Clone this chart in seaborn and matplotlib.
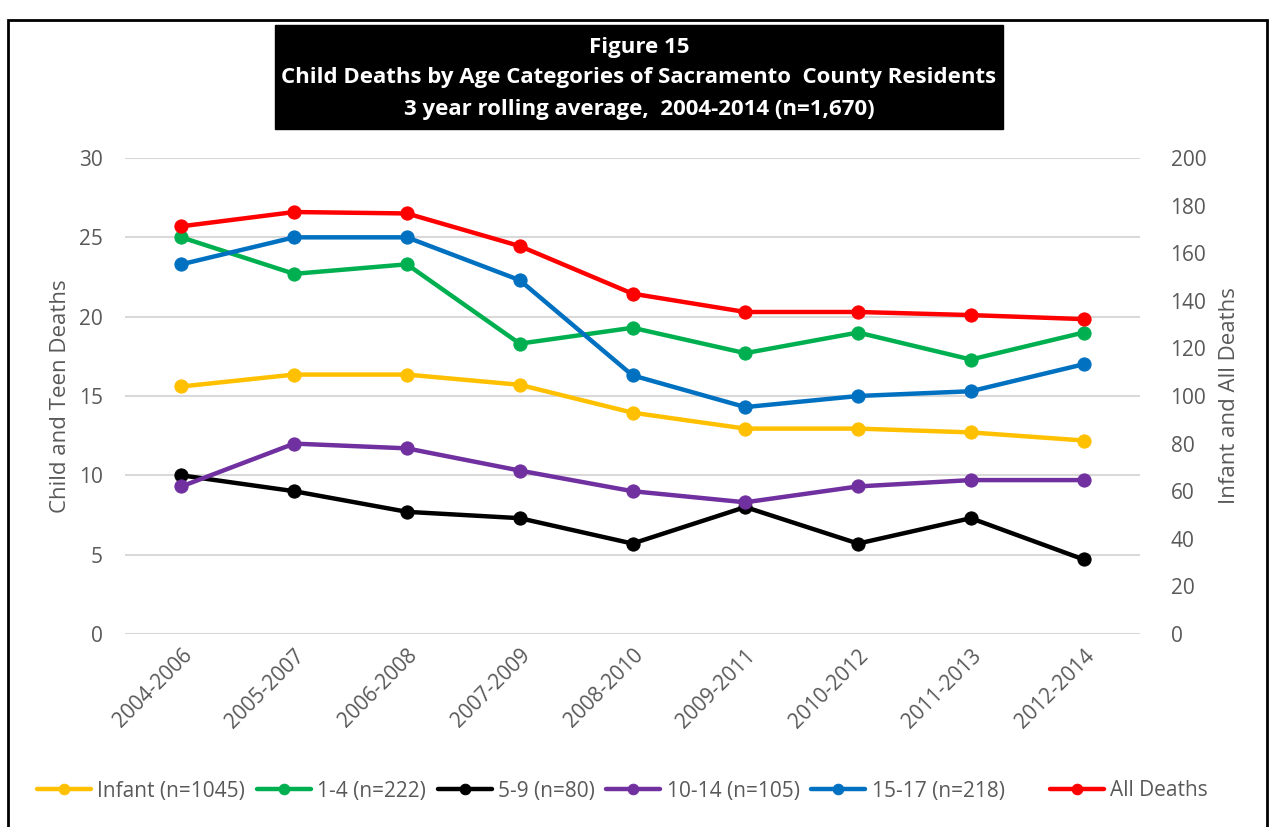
import matplotlib
matplotlib.use("Agg")
import matplotlib.pyplot as plt
import seaborn as sns
import pandas as pd
from matplotlib.patches import Rectangle

# ---------------- data ----------------
periods = ["2004-2006", "2005-2007", "2006-2008", "2007-2009", "2008-2010",
           "2009-2011", "2010-2012", "2011-2013", "2012-2014"]
infant = [104, 109, 109, 104.7, 93, 86.3, 86.3, 84.7, 81.3]          # right axis
age_1_4 = [25, 22.7, 23.3, 18.3, 19.3, 17.7, 19, 17.3, 19]           # left axis
age_5_9 = [10, 9, 7.7, 7.3, 5.7, 8, 5.7, 7.3, 4.7]                   # left axis
age_10_14 = [9.3, 12, 11.7, 10.3, 9, 8.3, 9.3, 9.7, 9.7]             # left axis
age_15_17 = [23.3, 25, 25, 22.3, 16.3, 14.3, 15, 15.3, 17]           # left axis
all_deaths = [171.3, 177.3, 176.7, 163, 143, 135.3, 135.3, 134, 132.3]  # right axis

left_ticks = [0, 5, 10, 15, 20, 25, 30]
right_ticks = [0, 20, 40, 60, 80, 100, 120, 140, 160, 180, 200]

labels = {
    "infant": "Infant (n=1045)",
    "a14": "1-4 (n=222)",
    "a59": "5-9 (n=80)",
    "a1014": "10-14 (n=105)",
    "a1517": "15-17 (n=218)",
    "all": "All Deaths",
}
title_lines = ["Figure 15",
               "Child Deaths by Age Categories of Sacramento  County Residents",
               "3 year rolling average,  2004-2014 (n=1,670)"]

# ---------------- style ----------------
sns.set_style("white")
plt.rcParams["font.family"] = ["Open Sans", "DejaVu Sans"]
GRAY = "#595959"

fig = plt.figure(figsize=(12.71, 8.27), dpi=100)
ax = fig.add_axes([125 / 1271, 1 - 634 / 827, (1140 - 125) / 1271, (634 - 158) / 827])
ax2 = ax.twinx()

lw = 3.2
ms = 9.5
left_series = [(age_1_4, "#00B050", labels["a14"]),
               (age_5_9, "#000000", labels["a59"]),
               (age_10_14, "#7030A0", labels["a1014"]),
               (age_15_17, "#0070C0", labels["a1517"])]
right_series = [(infant, "#FFC000", labels["infant"]),
                (all_deaths, "#FF0000", labels["all"])]

for vals, col, lab in left_series:
    df = pd.DataFrame({"period": periods, "value": vals})
    sns.lineplot(data=df, x="period", y="value", ax=ax, color=col, lw=lw,
                 marker="o", markersize=ms, markeredgecolor=col, label=lab, sort=False)
for vals, col, lab in right_series:
    df = pd.DataFrame({"period": periods, "value": vals})
    sns.lineplot(data=df, x="period", y="value", ax=ax2, color=col, lw=lw,
                 marker="o", markersize=ms, markeredgecolor=col, label=lab, sort=False)

ax.set_xlim(-0.5, len(periods) - 0.5)
ax.set_ylim(0, 30)
ax2.set_ylim(0, 200)
ax.set_yticks(left_ticks)
ax2.set_yticks(right_ticks)
ax.grid(axis="y", color="#D9D9D9", lw=1.5)
ax.grid(axis="x", visible=False)
ax2.grid(False)
for a in (ax, ax2):
    for s in a.spines.values():
        s.set_visible(False)
    a.tick_params(length=0, labelsize=15, colors=GRAY)
ax.tick_params(axis="y", pad=16)
ax2.tick_params(axis="y", pad=22)
ax.tick_params(axis="x", pad=8)
for t in ax.get_xticklabels():
    t.set_rotation(45)
    t.set_ha("right")
    t.set_rotation_mode("anchor")
ax.set_xlabel("")
ax.set_ylabel("Child and Teen Deaths", fontsize=16, color=GRAY)
ax2.set_ylabel("Infant and All Deaths", fontsize=16, color=GRAY)
ax.yaxis.set_label_coords(-0.053, 0.5)
ax2.yaxis.set_label_coords(1.078, 0.5)
ax.set_zorder(1)
ax2.set_zorder(2)
ax2.patch.set_visible(False)

# legend
h1, l1 = ax.get_legend_handles_labels()
h2, l2 = ax2.get_legend_handles_labels()
ax.get_legend().remove()
ax2.get_legend().remove()
hmap = dict(zip(l1 + l2, h1 + h2))
order1 = [labels[k] for k in ["infant", "a14", "a59", "a1014", "a1517"]]
leg_kw = dict(frameon=False, fontsize=15, handlelength=2.6, columnspacing=0.55,
              handletextpad=0.3, markerscale=0.8, borderpad=0, borderaxespad=0)
leg1 = fig.legend([hmap[o] for o in order1], order1, loc="center left",
                  bbox_to_anchor=(37 / 1271, 1 - 791 / 827), ncol=5, **leg_kw)
leg2 = fig.legend([hmap[labels["all"]]], [labels["all"]], loc="center left",
                  bbox_to_anchor=(1050 / 1271, 1 - 791 / 827), ncol=1, **leg_kw)
for lg in (leg1, leg2):
    for t in lg.get_texts():
        t.set_color(GRAY)

# title box
fig.patches.append(Rectangle((275 / 1271, 1 - 129 / 827), (1003 - 275) / 1271, (129 - 25) / 827,
                             transform=fig.transFigure, facecolor="black", edgecolor="black",
                             zorder=0))
for yy, line in zip([47, 78, 110], title_lines):
    fig.text(639 / 1271, 1 - yy / 827, line, ha="center", va="center", color="white",
             fontsize=16, fontweight="bold")

# outer frame
fig.patches.append(Rectangle((8 / 1271, -0.01), (1267 - 8) / 1271, (827 - 20) / 827 + 0.01,
                             transform=fig.transFigure, fill=False, edgecolor="black", lw=2))

fig.savefig("out.png", dpi=100)
